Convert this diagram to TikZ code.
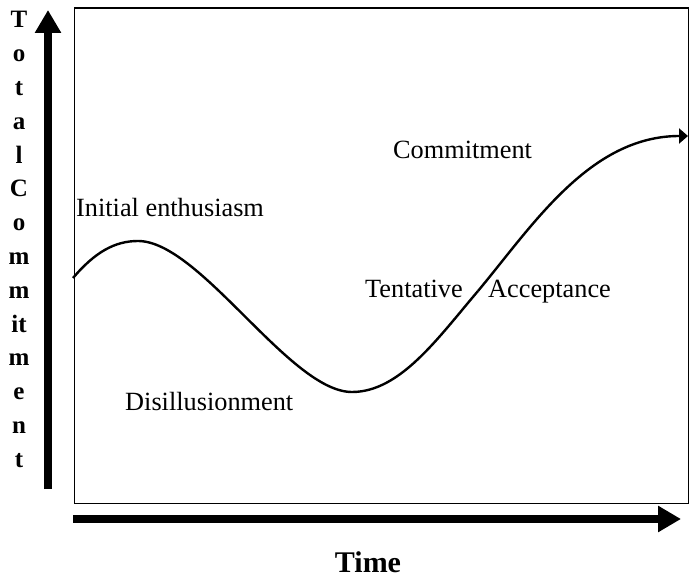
\documentclass[tikz,border=0pt]{standalone}
\usepackage{fontspec}
\setmainfont{Liberation Serif}
\usetikzlibrary{arrows.meta}
\begin{document}
\begin{tikzpicture}[x=1pt,y=-1pt,
  lbl/.style={font=\fontsize{26.3}{30}\selectfont, anchor=base west, inner sep=0pt},
  vl/.style={font=\fontsize{25}{28}\selectfont\bfseries, anchor=base, inner sep=0pt},
  axis/.style={line width=8pt, -{Triangle[length=23pt,width=25pt]}},
  curve/.style={line width=2.4pt, -{Triangle[length=9pt,width=15pt]}}]
\useasboundingbox (0,0) rectangle (689,580);
\node[draw, line width=1.5pt, minimum width=614pt, minimum height=495pt, anchor=north west, inner sep=0pt] (box) at (73.5,7.5) {};
% axes
\coordinate (ya0) at (48,489);
\coordinate (ya1) at (48,10);
\coordinate (xa0) at (73,519);
\coordinate (xa1) at (681,519);
\draw[axis] (ya0) -- (ya1);
\draw[axis] (xa0) -- (xa1);
% curve
\coordinate (c0) at (73,278);
\coordinate (c1) at (138,241);
\coordinate (c2) at (352,392);
\coordinate (c3) at (478,291);
\coordinate (c4) at (688,136);
\draw[line width=2.4pt] (c0) .. controls (95,252) and (115,241) .. (c1)
  .. controls (200,241) and (290,392) .. (c2)
  .. controls (400,392) and (438,338) .. (c3);
\draw[curve] (c3) .. controls (533,225) and (590,136) .. (c4);
% labels
\node[lbl] (ie) at (76,217) {Initial enthusiasm};
\node[lbl] (com) at (393,159) {Commitment};
\node[lbl] (ten) at (365,298) {Tentative};
\node[lbl] (acc) at (488,298) {Acceptance};
\node[lbl] (dis) at (125,410) {Disillusionment};
\node[font=\fontsize{30}{34}\selectfont\bfseries, anchor=base, inner sep=0pt] (time) at (368,572) {Time};
% vertical label
\foreach \ch [count=\i from 0] in {T,o,t,a,l,C,o,m,m,it,m,e,n,t}
  \node[vl] (v\i) at (19,28+33.8*\i) {\ch};
\end{tikzpicture}
\end{document}
